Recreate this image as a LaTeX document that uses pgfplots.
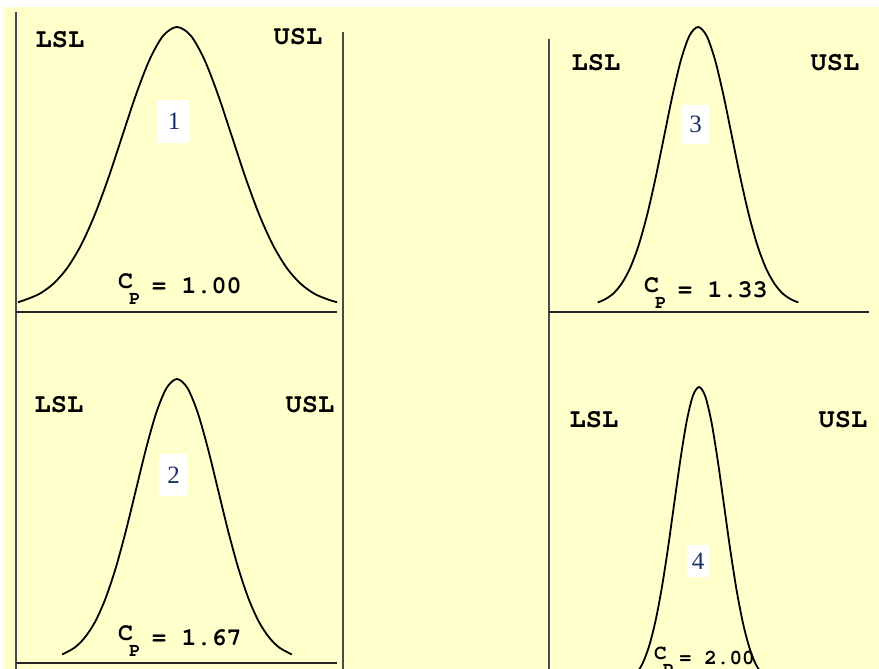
\documentclass[border=0pt]{standalone}
\usepackage[T1,TU]{fontenc}
\usepackage{pgfplots}
\pgfplotsset{compat=1.18}
\usepackage{fontspec}
\setmainfont{Liberation Serif}
\definecolor{paper}{HTML}{FFFFCC}
\definecolor{rule}{HTML}{4A4A4A}
\definecolor{digit}{HTML}{1A2F66}

% typewriter face for the limit and capability labels
\newcommand{\cour}{\fontencoding{T1}\fontfamily{pcr}\fontseries{b}\selectfont}
\newcommand{\speclim}[1]{\fontsize{27}{27}\cour #1}
\newcommand{\cpl}[3]{\fontsize{#2}{#2}\cour
  \raisebox{5pt}{C}\kern-4pt\raisebox{-11pt}{\fontsize{19}{19}\cour P}\hspace{#3}= #1}
\newcommand{\pnum}[1]{\fontsize{25}{25}\selectfont\color{digit}#1}

\begin{document}
\begin{tikzpicture}
\path[use as bounding box] (0,0) rectangle (879pt,669pt);
\begin{axis}[
  scale only axis, width=879pt, height=669pt,
  xmin=0, xmax=879, ymin=0, ymax=669, y dir=reverse,
  hide axis, clip=true,
]
% background
\fill[white] (axis cs:0,0) rectangle (axis cs:879,669);
\fill[paper] (axis cs:4,7) rectangle (axis cs:879,669);

% frame lines
\draw[rule, line width=2.2pt] (axis cs:16,12) -- (axis cs:16,669);
\draw[rule, line width=2.2pt] (axis cs:343,32) -- (axis cs:343,669);
\draw[rule, line width=2.2pt] (axis cs:549,39) -- (axis cs:549,669);
\draw[black!85, line width=2pt] (axis cs:16,312) -- (axis cs:337,312);
\draw[black!85, line width=2pt] (axis cs:16,663) -- (axis cs:337,663);
\draw[black!85, line width=2pt] (axis cs:549,312) -- (axis cs:869,312);

% process 1, Cp = 1.00
\addplot[black, line width=1.8pt, smooth] coordinates {
 (18,302.2) (25.75,299.6) (39.5,293.8) (53.25,283.8) (67,268.3) (80.75,245.7)
 (94.5,215.4) (108.25,178.3) (122,136.8) (135.75,95.4) (149.5,59.8) (163.25,35.6)
 (177,27) (190.75,35.6) (204.5,59.8) (218.25,95.4) (232,136.8) (245.75,178.3)
 (259.5,215.4) (273.25,245.7) (287,268.3) (300.75,283.8) (314.5,293.8)
 (328.25,299.6) (337,302.2)};

% process 2, Cp = 1.67
\addplot[black, line width=1.8pt, smooth] coordinates {
 (62.2,654.4) (74.5,647.7) (84.75,637.6) (95,622.0) (105.25,599.2) (115.5,568.8)
 (125.75,531.4) (136,489.6) (146.25,447.9) (156.5,412.0) (166.75,387.7) (177,379)
 (187.25,387.7) (197.5,412.0) (207.75,447.9) (218,489.6) (228.25,531.4)
 (238.5,568.8) (248.75,599.2) (259,622.0) (269.25,637.6) (279.5,647.7)
 (291.8,654.4)};

% process 3, Cp = 1.33
\addplot[black, line width=1.8pt, smooth] coordinates {
 (597.7,302.4) (604.5,299.6) (613,293.8) (621.5,283.8) (630,268.3) (638.5,245.7)
 (647,215.4) (655.5,178.3) (664,136.8) (672.5,95.4) (681,59.8) (689.5,35.6)
 (698,27) (706.5,35.6) (715,59.8) (723.5,95.4) (732,136.8) (740.5,178.3)
 (749,215.4) (757.5,245.7) (766,268.3) (774.5,283.8) (783,293.8) (791.5,299.6)
 (798.3,302.4)};

% process 4, Cp = 2.00
\addplot[black, line width=1.8pt, smooth] coordinates {
 (636.5,673.8) (642.75,663.1) (649,646.4) (655.25,622.1) (661.5,589.6)
 (667.75,549.7) (674,505.0) (680.25,460.6) (686.5,422.2) (692.75,396.2)
 (699,387) (705.25,396.2) (711.5,422.2) (717.75,460.6) (724,505.0)
 (730.25,549.7) (736.5,589.6) (742.75,622.1) (749,646.4) (755.25,663.1)
 (761.5,673.8)};

% limit labels
\node[anchor=base, inner sep=0] at (axis cs:60,48)  {\speclim{LSL}};
\node[anchor=base, inner sep=0] at (axis cs:298,45) {\speclim{USL}};
\node[anchor=base, inner sep=0] at (axis cs:59,412) {\speclim{LSL}};
\node[anchor=base, inner sep=0] at (axis cs:310,412) {\speclim{USL}};
\node[anchor=base, inner sep=0] at (axis cs:596,71) {\speclim{LSL}};
\node[anchor=base, inner sep=0] at (axis cs:835,71) {\speclim{USL}};
\node[anchor=base, inner sep=0] at (axis cs:594,427) {\speclim{LSL}};
\node[anchor=base, inner sep=0] at (axis cs:843,427) {\speclim{USL}};

% capability indices
\node[anchor=base west, inner sep=0] at (axis cs:118,293) {\cpl{1.00}{25}{11pt}};
\node[anchor=base west, inner sep=0] at (axis cs:118,645) {\cpl{1.67}{25}{11pt}};
\node[anchor=base west, inner sep=0] at (axis cs:644,297) {\cpl{1.33}{25}{11pt}};
\node[anchor=base west, inner sep=0] at (axis cs:654,664) {\cpl{2.00}{21}{5pt}};

% process numbers
\node[fill=white, inner sep=0, minimum width=32pt, minimum height=43pt] at (axis cs:174,121.5) {\pnum{1}};
\node[fill=white, inner sep=0, minimum width=29pt, minimum height=42pt] at (axis cs:173.5,475) {\pnum{2}};
\node[fill=white, inner sep=0, minimum width=27pt, minimum height=39pt] at (axis cs:695.5,124.5) {\pnum{3}};
\node[fill=white, inner sep=0, minimum width=22pt, minimum height=32pt] at (axis cs:698,561) {\pnum{4}};
\end{axis}
\end{tikzpicture}
\end{document}
